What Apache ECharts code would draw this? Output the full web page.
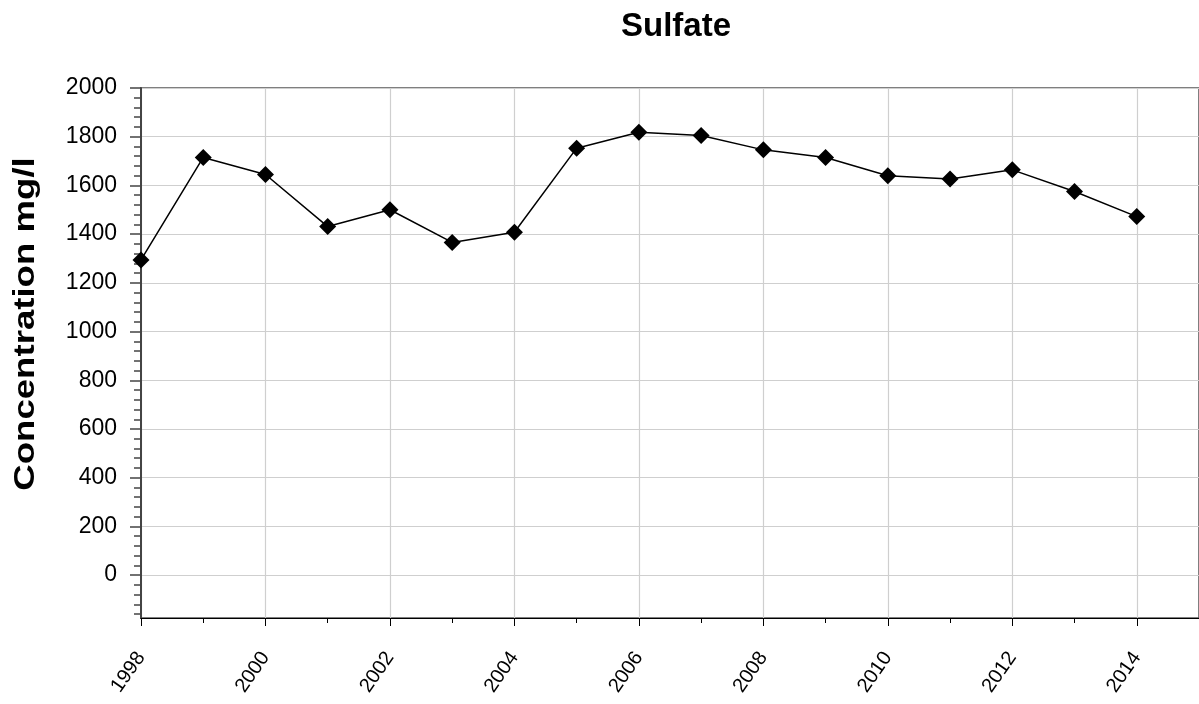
<!DOCTYPE html>
<html>
<head>
<meta charset="utf-8">
<title>Sulfate</title>
<script src="https://cdn.jsdelivr.net/npm/echarts@6/dist/echarts.min.js"></script>
<style>
  html, body { margin: 0; padding: 0; background: #fff; }
  #chart { width: 1199px; height: 704px; }
</style>
</head>
<body>
<div id="chart"></div>
<script>
// Sampling years and measured sulfate concentration (mg/l)
const years = [1998, 1999, 2000, 2001, 2002, 2003, 2004, 2005, 2006, 2007, 2008, 2009, 2010, 2011, 2012, 2013, 2014];
const sulfate = [1294, 1715, 1645, 1431, 1500, 1366, 1408, 1753, 1818, 1805, 1746, 1715, 1640, 1626, 1664, 1575, 1472];

// Axis tick values
const yMajorTicks = [0, 200, 400, 600, 800, 1000, 1200, 1400, 1600, 1800, 2000];
const yMinorTicks = [-160, -120, -80, -40, 40, 80, 120, 160, 240, 280, 320, 360, 440, 480, 520, 560,
  640, 680, 720, 760, 840, 880, 920, 960, 1040, 1080, 1120, 1160, 1240, 1280, 1320, 1360,
  1440, 1480, 1520, 1560, 1640, 1680, 1720, 1760, 1840, 1880, 1920, 1960];
const xMajorTicks = [1998, 2000, 2002, 2004, 2006, 2008, 2010, 2012, 2014];
const xMinorTicks = [1999, 2001, 2003, 2005, 2007, 2009, 2011, 2013];

const Y_MIN = -176, Y_MAX = 2000;
const X_MIN = 1998, X_MAX = 2015;
const FONT = 'Liberation Sans, Arial, sans-serif';

const chart = echarts.init(document.getElementById('chart'), null, { renderer: 'canvas' });

const points = years.map((y, i) => [y, sulfate[i]]);

chart.setOption({
  backgroundColor: '#ffffff',
  animation: false,
  title: {
    text: 'Sulfate',
    left: 671,
    top: 5,
    textAlign: 'center',
    textStyle: { fontFamily: FONT, fontSize: 33, fontWeight: 'bold', color: '#000' }
  },
  graphic: [{
    type: 'text',
    x: 26,
    y: 324,
    rotation: Math.PI / 2,
    scaleX: 1.22,
    style: {
      text: 'Concentration mg/l',
      fontFamily: FONT,
      fontSize: 30,
      fontWeight: 'bold',
      fill: '#000',
      textAlign: 'center',
      textVerticalAlign: 'middle'
    }
  }],
  grid: {
    left: 141,
    top: 88,
    right: -2,
    bottom: 86,
    show: true,
    borderColor: '#555',
    borderWidth: 1.5,
    containLabel: false
  },
  xAxis: [{
    type: 'value',
    min: X_MIN,
    max: X_MAX,
    position: 'bottom',
    axisLine: { show: true, onZero: false, lineStyle: { color: '#000', width: 1.2 } },
    axisTick: { show: true, customValues: xMajorTicks, length: 8, lineStyle: { color: '#000', width: 1 } },
    axisLabel: {
      customValues: xMajorTicks,
      rotate: 55,
      margin: 36,
      fontFamily: FONT,
      fontSize: 20,
      color: '#000',
      formatter: v => String(v)
    },
    splitLine: { show: true, lineStyle: { color: '#cfcfcf', width: 1.2 } }
  }, {
    type: 'value',
    min: X_MIN,
    max: X_MAX,
    position: 'bottom',
    axisLine: { show: false, onZero: false },
    axisTick: { show: true, customValues: xMinorTicks, length: 5, lineStyle: { color: '#000', width: 1 } },
    axisLabel: { show: false },
    splitLine: { show: false }
  }],
  yAxis: [{
    type: 'value',
    min: Y_MIN,
    max: Y_MAX,
    position: 'left',
    axisLine: { show: true, onZero: false, lineStyle: { color: '#444', width: 2 } },
    axisTick: { show: true, customValues: yMajorTicks, length: 11, lineStyle: { color: '#444', width: 1.5 } },
    axisLabel: {
      customValues: yMajorTicks,
      margin: 24,
      fontFamily: FONT,
      fontSize: 23,
      color: '#000',
      formatter: v => String(v)
    },
    splitLine: { show: true, lineStyle: { color: '#cfcfcf', width: 1.2 } }
  }, {
    type: 'value',
    min: Y_MIN,
    max: Y_MAX,
    position: 'left',
    offset: 0,
    axisLine: { show: false, onZero: false },
    axisTick: { show: true, customValues: yMinorTicks, length: 7, lineStyle: { color: '#444', width: 1.5 } },
    axisLabel: { show: false },
    splitLine: { show: false }
  }],
  series: [{
    type: 'line',
    xAxisIndex: 0,
    yAxisIndex: 0,
    data: points,
    symbol: 'diamond',
    symbolSize: 17,
    showSymbol: true,
    lineStyle: { color: '#000', width: 1.5 },
    itemStyle: { color: '#000' },
    z: 5
  }]
});
</script>
</body>
</html>
